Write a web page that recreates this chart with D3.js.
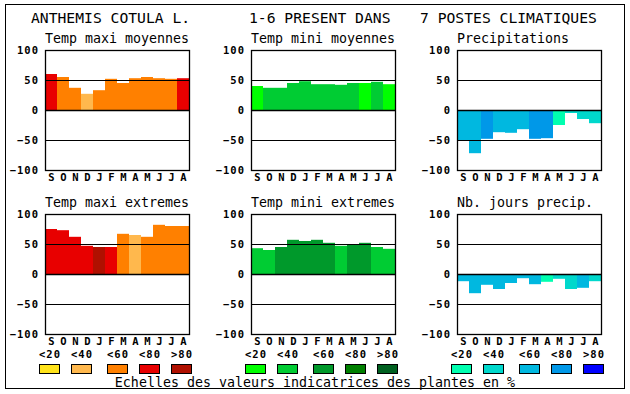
<!DOCTYPE html>
<html>
<head>
<meta charset="utf-8">
<script src="https://cdn.jsdelivr.net/npm/d3@7"></script>
<style>
  body { margin: 0; background: #fff; }
  text { font-family: "DejaVu Sans Mono", monospace; fill: #000; }
  .title { font-size: 14.7px; }
  .sub { font-size: 13.3px; }
  .tick-lbl { font-size: 10.5px; font-weight: bold; letter-spacing: 1px; }
</style>
</head>
<body>
<div id="chart"></div>
<script>
const months = ["S", "O", "N", "D", "J", "F", "M", "A", "M", "J", "J", "A"];
const yTicks = [100, 50, 0, -50, -100];

const reds = ["#ffe31a", "#ffb84d", "#ff8000", "#e80000", "#b01000"];
const greens = ["#00ff00", "#00cc33", "#00992b", "#008000", "#006020"];
const blues = ["#00ffb0", "#00d8cc", "#00b8e0", "#0098e8", "#0000ff"];
const scaleLabels = ["<20", "<40", "<60", "<80", ">80"];

const maxiMoy = [60, 55, 37, 27, 33, 52, 45, 53, 55, 53, 52, 53];
const maxiMoyCls = [3, 2, 2, 1, 2, 2, 2, 2, 2, 2, 2, 3];
const miniMoy = [40, 37, 37, 45, 48, 43, 43, 42, 45, 45, 47, 43];
const miniMoyCls = [0, 1, 1, 1, 1, 1, 1, 1, 1, 0, 1, 0];
const precip = [-50, -72, -48, -37, -38, -32, -48, -47, -25, -5, -15, -22];
const precipCls = [2, 2, 3, 2, 2, 2, 3, 3, 0, 1, 1, 1];
const maxiExt = [75, 73, 62, 47, 45, 45, 67, 65, 62, 82, 80, 80];
const maxiExtCls = [3, 3, 3, 3, 4, 3, 2, 1, 2, 2, 2, 2];
const miniExt = [43, 40, 45, 57, 55, 57, 52, 47, 50, 52, 45, 42];
const miniExtCls = [1, 1, 2, 2, 2, 2, 2, 1, 2, 2, 1, 1];
const nbJours = [-12, -32, -18, -25, -15, -7, -17, -13, -8, -25, -23, -12];
const nbJoursCls = [2, 2, 2, 2, 2, 2, 2, 0, 1, 1, 2, 1];

const width = 630;
const height = 394;
const plotW = 144;
const plotH = 120;
const colX = [45, 251, 457];
const rowY = [50, 214];

const panels = [
  { title: "Temp maxi moyennes", values: maxiMoy, cls: maxiMoyCls, pal: reds, col: 0, row: 0 },
  { title: "Temp mini moyennes", values: miniMoy, cls: miniMoyCls, pal: greens, col: 1, row: 0 },
  { title: "Precipitations", values: precip, cls: precipCls, pal: blues, col: 2, row: 0 },
  { title: "Temp maxi extremes", values: maxiExt, cls: maxiExtCls, pal: reds, col: 0, row: 1 },
  { title: "Temp mini extremes", values: miniExt, cls: miniExtCls, pal: greens, col: 1, row: 1 },
  { title: "Nb. jours precip.", values: nbJours, cls: nbJoursCls, pal: blues, col: 2, row: 1 },
];

const svg = d3
  .select("#chart")
  .append("svg")
  .attr("width", width)
  .attr("height", height);

// outer frame
svg
  .append("rect")
  .attr("x", 5.5)
  .attr("y", 4.5)
  .attr("width", 619)
  .attr("height", 384)
  .attr("fill", "none")
  .attr("stroke", "#000");

// header
const header = [
  ["ANTHEMIS COTULA L.", 31],
  ["1-6 PRESENT DANS", 249],
  ["7 POSTES CLIMATIQUES", 420],
];
svg
  .selectAll(".title")
  .data(header)
  .enter()
  .append("text")
  .attr("class", "title")
  .attr("x", (d) => d[1])
  .attr("y", 23)
  .text((d) => d[0]);

const x = d3.scaleBand().domain(d3.range(12)).range([0, plotW]);
const y = d3.scaleLinear().domain([-100, 100]).range([plotH, 0]);

panels.forEach((p) => {
  const g = svg
    .append("g")
    .attr("transform", `translate(${colX[p.col]}, ${rowY[p.row]})`);

  g.append("text")
    .attr("class", "sub")
    .attr("x", 0)
    .attr("y", -7)
    .text(p.title);

  g.selectAll("rect.bar")
    .data(p.values)
    .enter()
    .append("rect")
    .attr("class", "bar")
    .attr("x", (d, i) => x(i))
    .attr("width", x.bandwidth())
    .attr("y", (d) => y(Math.max(0, d)))
    .attr("height", (d) => Math.abs(y(d) - y(0)))
    .attr("fill", (d, i) => p.pal[p.cls[i]]);

  // grid lines at 50 / 0 / -50
  g.selectAll("line.grid")
    .data([50, 0, -50])
    .enter()
    .append("line")
    .attr("x1", 0)
    .attr("x2", plotW)
    .attr("y1", (d) => y(d) + 0.5)
    .attr("y2", (d) => y(d) + 0.5)
    .attr("stroke", "#000")
    .attr("stroke-width", (d) => (d === 0 ? 1.6 : 1));

  g.append("rect")
    .attr("x", 0.5)
    .attr("y", 0.5)
    .attr("width", plotW)
    .attr("height", plotH)
    .attr("fill", "none")
    .attr("stroke", "#000")
    .attr("stroke-width", 1.3);

  const yAxis = d3.axisLeft(y).tickValues(yTicks).tickSize(0).tickPadding(6);
  const ag = g.append("g").call(yAxis);
  ag.select(".domain").remove();
  ag.selectAll("text")
    .attr("class", "tick-lbl")
    .attr("dy", "0.36em")
    .attr("x", -6);
  ag.attr("font-family", null).attr("font-size", null);

  g.selectAll("text.month")
    .data(months)
    .enter()
    .append("text")
    .attr("class", "tick-lbl month")
    .attr("x", (d, i) => x(i) + x.bandwidth() / 2 + 1)
    .attr("y", plotH + 11)
    .attr("text-anchor", "middle")
    .text((d) => d);
});

// legend scales
const swatchOff = [0, 32, 68, 100, 132];
[reds, greens, blues].forEach((pal, k) => {
  const lx = colX[k] - 6;
  const lg = svg.append("g").attr("transform", `translate(${lx}, 0)`);
  lg.selectAll("text")
    .data(scaleLabels)
    .enter()
    .append("text")
    .attr("class", "tick-lbl")
    .attr("x", (d, i) => swatchOff[i] + 11)
    .attr("y", 358)
    .attr("text-anchor", "middle")
    .text((d) => d);
  lg.selectAll("rect")
    .data(pal)
    .enter()
    .append("rect")
    .attr("x", (d, i) => swatchOff[i] + 0.5)
    .attr("y", 364.5)
    .attr("width", 20)
    .attr("height", 9)
    .attr("fill", (d) => d)
    .attr("stroke", "#000");
});

svg
  .append("text")
  .attr("class", "sub")
  .attr("x", 315)
  .attr("y", 387)
  .attr("text-anchor", "middle")
  .text("Echelles des valeurs indicatrices des plantes en %");
</script>
</body>
</html>
